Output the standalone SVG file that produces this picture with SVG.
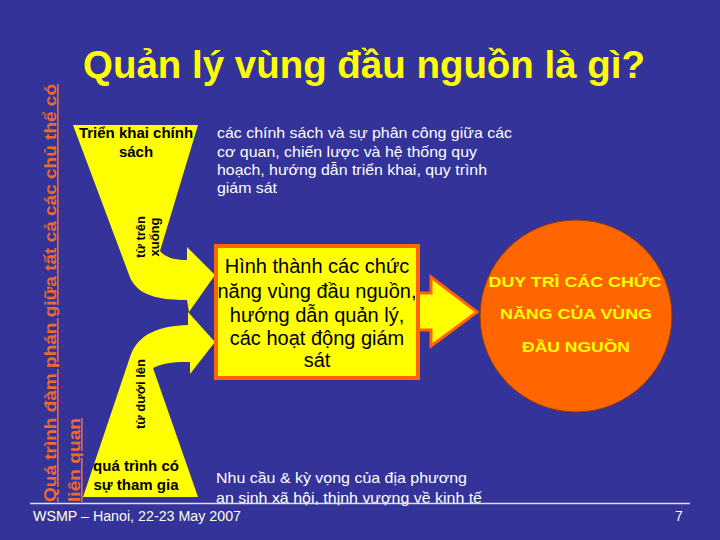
<svg xmlns="http://www.w3.org/2000/svg" width="720" height="540" viewBox="0 0 720 540">
<style>
.bg{fill:#333399}
.yel{fill:#FFFF00}
.f{font-family:"Liberation Sans",Arial,sans-serif}
.title{font-size:39px;font-weight:bold;fill:#FFFF00}
.side{font-size:16px;font-weight:bold;fill:#EE6A2A;text-decoration:underline}
.blk{font-size:15px;font-weight:bold;fill:#000}
.vblk{font-size:13px;font-weight:bold;fill:#000}
.wht{font-size:15px;fill:#FFFFFF}
.box{font-size:20px;fill:#000}
.circ{font-size:14px;font-weight:bold;fill:#FFFF00}
.foot{font-size:14px;fill:#FFFFE8}
</style>
<rect class="bg" x="0" y="0" width="720" height="540"/>

<g id="title">
<text class="f title" x="83" y="78" textLength="562" lengthAdjust="spacingAndGlyphs">Quản lý vùng đầu nguồn là gì?</text>
</g>

<g id="funnel-top">
<path class="yel" d="M73,125 L198,125 L160,251 C166,258 175,260 187,260 L187,247 L215,275 L189,312 L187,300 C150,300 134,292 128,272 Z"/>
<text class="f blk" text-anchor="middle" x="136" y="138">Triển khai chính</text>
<text class="f blk" text-anchor="middle" x="136" y="157">sách</text>
<text class="f vblk" text-anchor="middle" transform="translate(145,237) rotate(-90)">từ trên</text>
<text class="f vblk" text-anchor="middle" transform="translate(159,237) rotate(-90)">xuống</text>
</g>

<g id="funnel-bottom">
<path class="yel" d="M83,497 L198,497 L153,368 C165,362 178,362 190,362 L190,374 L215,342 L188,312 L188,325 C160,326 138,333 130,357 Z"/>
<text class="f vblk" text-anchor="middle" transform="translate(145,394) rotate(-90)">từ dưới lên</text>
<text class="f blk" text-anchor="middle" x="136" y="471">quá trình có</text>
<text class="f blk" text-anchor="middle" x="136" y="490">sự tham gia</text>
</g>

<g id="side-label">
<text class="f side" transform="translate(56,502) rotate(-90)" textLength="418" lengthAdjust="spacingAndGlyphs">Quá trình đàm phán giữa tất cả các chủ thể có</text>
<text class="f side" transform="translate(80,502) rotate(-90)" textLength="84" lengthAdjust="spacingAndGlyphs">liên quan</text>
</g>

<g id="policy-text">
<text class="f wht" x="217" y="138" textLength="295" lengthAdjust="spacingAndGlyphs">các chính sách và sự phân công giữa các</text>
<text class="f wht" x="217" y="157" textLength="260" lengthAdjust="spacingAndGlyphs">cơ quan, chiến lược và hệ thống quy</text>
<text class="f wht" x="217" y="175" textLength="270" lengthAdjust="spacingAndGlyphs">hoạch, hướng dẫn triển khai, quy trình</text>
<text class="f wht" x="217" y="193" textLength="60" lengthAdjust="spacingAndGlyphs">giám sát</text>
</g>

<g id="connectors">
<path d="M418,293 L431,293 L431,277 L477,312 L431,346 L431,330 L418,330 Z" fill="#FFFF00" stroke="#FF6600" stroke-width="3" stroke-linejoin="miter"/>
</g>

<g id="center-box">
<rect x="216" y="246" width="202" height="132" fill="#FFFF00" stroke="#FF6600" stroke-width="4"/>
<text class="f box" text-anchor="middle" x="317" y="273">Hình thành các chức</text>
<text class="f box" text-anchor="middle" x="317" y="298">năng vùng đầu nguồn,</text>
<text class="f box" text-anchor="middle" x="317" y="322">hướng dẫn quản lý,</text>
<text class="f box" text-anchor="middle" x="317" y="345">các hoạt động giám</text>
<text class="f box" text-anchor="middle" x="317" y="367">sát</text>
</g>

<g id="goal-circle">
<circle cx="576" cy="316" r="96" fill="#FF6600" stroke="#8A3A10" stroke-width="1"/>
<text class="f circ" text-anchor="middle" x="575" y="287" textLength="173" lengthAdjust="spacingAndGlyphs">DUY TRÌ CÁC CHỨC</text>
<text class="f circ" text-anchor="middle" x="576" y="319" textLength="152" lengthAdjust="spacingAndGlyphs">NĂNG CỦA VÙNG</text>
<text class="f circ" text-anchor="middle" x="576" y="352" textLength="108" lengthAdjust="spacingAndGlyphs">ĐẦU NGUỒN</text>
</g>

<g id="needs-text">
<text class="f wht" x="216" y="483" textLength="251" lengthAdjust="spacingAndGlyphs">Nhu cầu &amp; kỳ vọng của địa phương</text>
<text class="f wht" x="216" y="503" textLength="266" lengthAdjust="spacingAndGlyphs">an sinh xã hội, thịnh vượng về kinh tế</text>
</g>

<g id="footer">
<line x1="30" y1="503.5" x2="690" y2="503.5" stroke="#E0E0E0" stroke-width="1.5"/>
<text class="f foot" x="33" y="521" textLength="208" lengthAdjust="spacingAndGlyphs">WSMP – Hanoi, 22-23 May 2007</text>
<text class="f foot" x="675" y="521">7</text>
</g>
</svg>
